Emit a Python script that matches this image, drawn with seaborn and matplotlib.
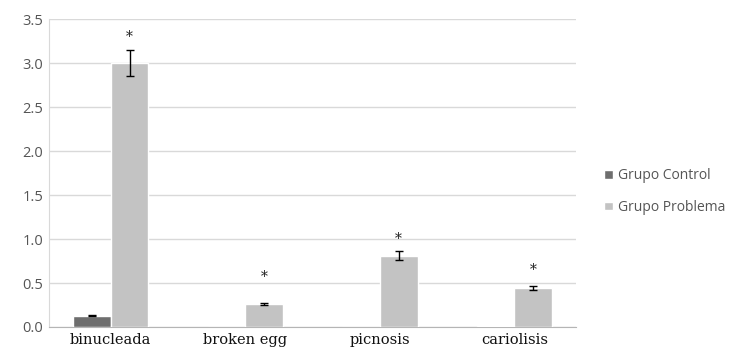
import pandas as pd
import matplotlib.pyplot as plt
import seaborn as sns

categorias = ['binucleada', 'broken egg', 'picnosis', 'cariolisis']
grupos = ['Grupo Control', 'Grupo Problema']
control = [0.13, 0.0, 0.0, 0.006]
control_err = [0.008, 0.0, 0.0, 0.0]
problema = [3.0, 0.26, 0.81, 0.44]
problema_err = [0.15, 0.012, 0.05, 0.025]
asterisco = [3.3, 0.57, 1.0, 0.65]

df = pd.DataFrame({
    'categoria': categorias * 2,
    'grupo': [grupos[0]] * 4 + [grupos[1]] * 4,
    'valor': control + problema,
    'err': control_err + problema_err,
})

sns.set_style('white')
fig = plt.figure(figsize=(7.32, 3.53), dpi=100)
ax = fig.add_axes([0.0670, 0.0737, 0.72, 0.872])

sns.barplot(data=df, x='categoria', y='valor', hue='grupo', order=categorias,
            hue_order=grupos, palette=['#6e6e6e', '#c3c3c3'], width=0.56,
            errorbar=None, ax=ax, zorder=3)

# error bars and asterisks from the bar patches
bars = [p for p in ax.patches if p.get_height() > 0 or p.get_width() > 0][:8]
for p, (_, row) in zip(bars, df.iterrows()):
    cx = p.get_x() + p.get_width() / 2
    if row['err'] > 0:
        ax.errorbar(cx, row['valor'], yerr=row['err'], color='black', capsize=3,
                    elinewidth=1, capthick=1, zorder=4)
for i, p in enumerate(bars[4:8]):
    cx = p.get_x() + p.get_width() / 2
    ax.text(cx, asterisco[i], '*', ha='center', va='center', fontsize=10,
            fontfamily='DejaVu Serif', color='#222222')

ax.set_ylim(0, 3.5)
ax.set_yticks([0, 0.5, 1.0, 1.5, 2.0, 2.5, 3.0, 3.5])
ax.set_yticklabels([f'{v:.1f}' for v in ax.get_yticks()], fontsize=10.5,
                   color='#555555', fontfamily='Open Sans')
ax.set_xticks(range(4))
ax.set_xticklabels(categorias, fontsize=10.5, fontfamily='DejaVu Serif', color='#111111')
ax.tick_params(axis='both', length=0, pad=4)
ax.set_xlabel('')
ax.set_ylabel('')
ax.yaxis.grid(True, color='#d9d9d9', linewidth=1)
ax.set_axisbelow(True)
for s in ['top', 'right']:
    ax.spines[s].set_visible(False)
ax.spines['left'].set_color('#d9d9d9')
ax.spines['bottom'].set_color('#b5b5b5')

leg = ax.legend(loc='center left', bbox_to_anchor=(1.03, 0.44), frameon=False,
                fontsize=10, handlelength=0.6, handleheight=0.6, handletextpad=0.4,
                labelspacing=1.2)
for t in leg.get_texts():
    t.set_color('#555555')
    t.set_fontfamily('Open Sans')

fig.savefig('out.png', dpi=100)
